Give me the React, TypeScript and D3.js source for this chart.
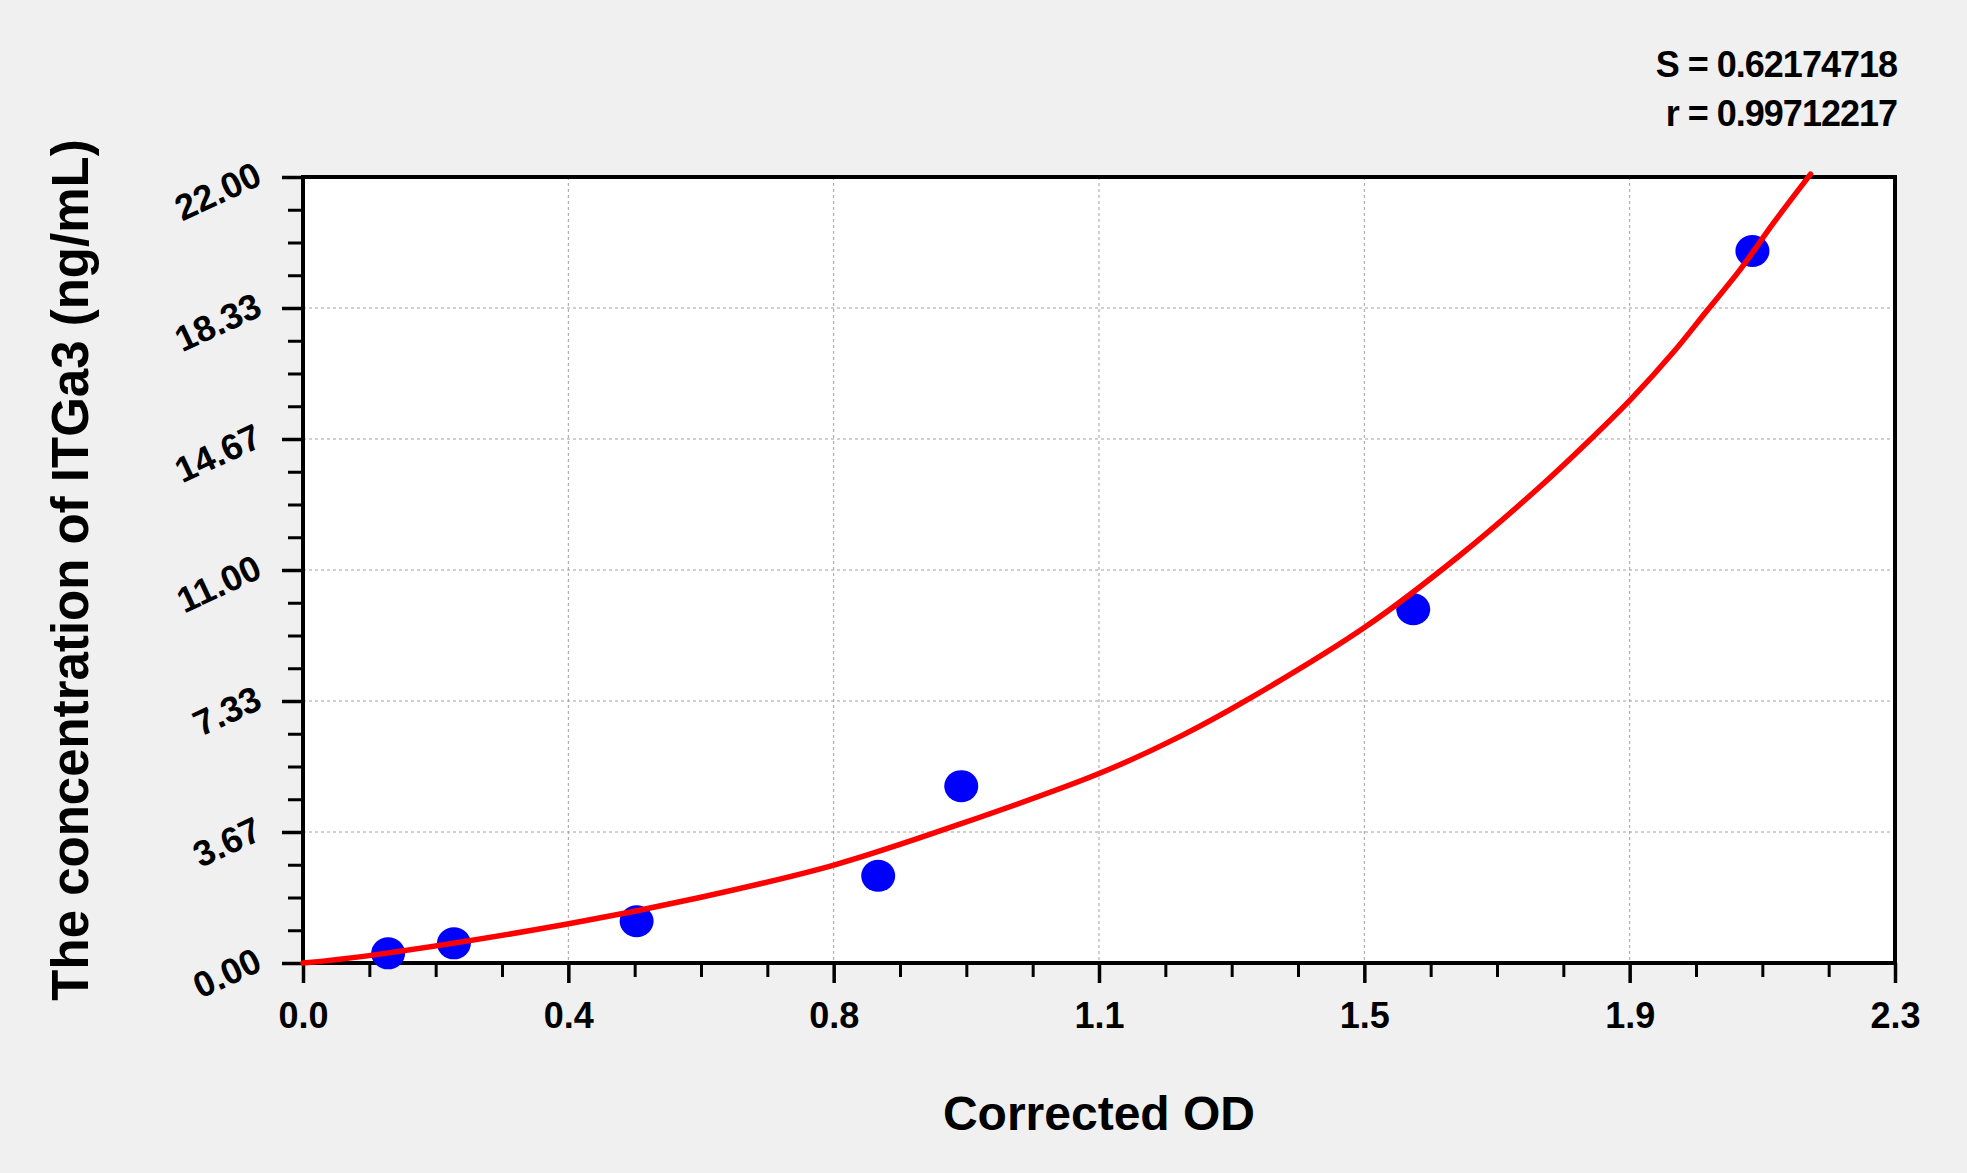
import React, { ReactElement, useEffect, useRef } from "react";
import * as d3 from "d3";

// measured standards (corrected OD -> concentration)
const pointOD = [0.123, 0.218, 0.482, 0.831, 0.951, 1.604, 2.094];
const pointConc = [0.27, 0.55, 1.17, 2.44, 4.95, 9.9, 19.93];

// fitted curve
const curveOD = [
  0, 0.093, 0.382, 0.575, 0.767, 0.951, 1.151, 1.268, 1.369, 1.535, 1.672,
  1.787, 1.864, 1.92, 1.98, 2.028, 2.076, 2.124, 2.178,
];
const curveConc = [
  0, 0.2, 1.09, 1.84, 2.74, 3.9, 5.31, 6.35, 7.42, 9.41, 11.42, 13.33, 14.73,
  15.81, 17.1, 18.25, 19.4, 20.7, 22.08,
];

const xTickLabels = ["0.0", "0.4", "0.8", "1.1", "1.5", "1.9", "2.3"];
const yTickLabels = ["0.00", "3.67", "7.33", "11.00", "14.67", "18.33", "22.00"];
const statLines = ["S = 0.62174718", "r = 0.99712217"];

const xMax = 2.3;
const yMax = 22;
const FONT = "'Liberation Sans', Arial, Helvetica, sans-serif";

function App(): ReactElement {
  const ref = useRef<SVGSVGElement>(null);

  useEffect(() => {
    drawChart();
  }, []);

  const drawChart = () => {
    const svg = d3.select(ref.current);
    svg.selectAll("*").remove();

    const left = 303;
    const right = 1895;
    const top = 177;
    const bottom = 963;

    const x = d3.scaleLinear().domain([0, xMax]).range([left, right]);
    const y = d3.scaleLinear().domain([0, yMax]).range([bottom, top]);

    const xMajor = xTickLabels.map((_, i) => (i * xMax) / 6);
    const yMajor = yTickLabels.map((_, i) => (i * yMax) / 6);
    const xMinor = d3.range(25).map((i) => (i * xMax) / 24).filter((_, i) => i % 4 !== 0);
    const yMinor = d3.range(25).map((i) => (i * yMax) / 24).filter((_, i) => i % 4 !== 0);

    svg.append("rect").attr("width", 1967).attr("height", 1173).attr("fill", "#f0f0f0");
    svg
      .append("rect")
      .attr("x", left)
      .attr("y", top)
      .attr("width", right - left)
      .attr("height", bottom - top)
      .attr("fill", "#ffffff");

    // grid
    const grid = svg.append("g").attr("stroke", "#a0a0a0").attr("stroke-width", 1).attr("stroke-dasharray", "3,3");
    grid
      .selectAll(".gx")
      .data(xMajor.slice(1, -1))
      .enter()
      .append("line")
      .attr("x1", (d) => x(d))
      .attr("x2", (d) => x(d))
      .attr("y1", top)
      .attr("y2", bottom);
    grid
      .selectAll(".gy")
      .data(yMajor.slice(1, -1))
      .enter()
      .append("line")
      .attr("x1", left)
      .attr("x2", right)
      .attr("y1", (d) => y(d))
      .attr("y2", (d) => y(d));

    // minor ticks
    const xMinorAxis = svg
      .append("g")
      .attr("transform", `translate(0,${bottom})`)
      .call(d3.axisBottom(x).tickValues(xMinor).tickSize(14).tickFormat(() => ""));
    const yMinorAxis = svg
      .append("g")
      .attr("transform", `translate(${left},0)`)
      .call(d3.axisLeft(y).tickValues(yMinor).tickSize(15).tickFormat(() => ""));
    [xMinorAxis, yMinorAxis].forEach((g) => {
      g.select(".domain").remove();
      g.selectAll("line").attr("stroke", "#000").attr("stroke-width", 3);
    });

    // major ticks + labels
    const xAxis = svg
      .append("g")
      .attr("transform", `translate(0,${bottom})`)
      .call(
        d3
          .axisBottom(x)
          .tickValues(xMajor)
          .tickSize(20)
          .tickFormat((_, i) => xTickLabels[i])
      );
    xAxis.select(".domain").remove();
    xAxis.selectAll("line").attr("stroke", "#000").attr("stroke-width", 3.5);
    xAxis
      .selectAll("text")
      .attr("y", 65)
      .attr("dy", 0)
      .attr("fill", "#000")
      .style("font-family", FONT)
      .style("font-weight", "bold")
      .style("font-size", "36px");

    const yAxis = svg
      .append("g")
      .attr("transform", `translate(${left},0)`)
      .call(
        d3
          .axisLeft(y)
          .tickValues(yMajor)
          .tickSize(21)
          .tickFormat((_, i) => yTickLabels[i])
      );
    yAxis.select(".domain").remove();
    yAxis.selectAll("line").attr("stroke", "#000").attr("stroke-width", 3.5);
    yAxis
      .selectAll("text")
      .attr("x", 0)
      .attr("dy", 0)
      .attr("text-anchor", "end")
      .attr("transform", "translate(-39,6) rotate(-25)")
      .attr("fill", "#000")
      .style("font-family", FONT)
      .style("font-weight", "bold")
      .style("font-size", "36px");

    // frame
    svg
      .append("rect")
      .attr("x", left)
      .attr("y", top)
      .attr("width", right - left)
      .attr("height", bottom - top)
      .attr("fill", "none")
      .attr("stroke", "#000")
      .attr("stroke-width", 4);

    // standards
    svg
      .selectAll(".pt")
      .data(pointOD)
      .enter()
      .append("ellipse")
      .attr("cx", (d) => x(d))
      .attr("cy", (_, i) => y(pointConc[i]))
      .attr("rx", 17)
      .attr("ry", 16)
      .attr("fill", "#0000ff");

    // fitted curve
    const line = d3
      .line<number>()
      .x((d) => x(d))
      .y((_, i) => y(curveConc[i]))
      .curve(d3.curveCatmullRom);
    svg
      .append("path")
      .datum(curveOD)
      .attr("d", line)
      .attr("fill", "none")
      .attr("stroke", "#ff0000")
      .attr("stroke-width", 5.5)
      .attr("stroke-linecap", "round")
      .attr("stroke-linejoin", "round");

    // titles
    svg
      .append("text")
      .attr("x", (left + right) / 2)
      .attr("y", 1130)
      .attr("text-anchor", "middle")
      .style("font-family", FONT)
      .style("font-weight", "bold")
      .style("font-size", "48px")
      .text("Corrected OD");
    svg
      .append("text")
      .attr("transform", `translate(88,${(top + bottom) / 2}) rotate(-90)`)
      .attr("text-anchor", "middle")
      .style("font-family", FONT)
      .style("font-weight", "bold")
      .style("font-size", "51px")
      .text("The concentration of ITGa3 (ng/mL)");

    svg
      .selectAll(".stat")
      .data(statLines)
      .enter()
      .append("text")
      .attr("x", 1897)
      .attr("y", (_, i) => 77 + i * 49)
      .attr("text-anchor", "end")
      .style("font-family", FONT)
      .style("font-weight", "bold")
      .style("font-size", "36px")
      .style("letter-spacing", "-1px")
      .text((d) => d);
  };

  return (
    <div style={{ position: "absolute", left: 0, top: 0 }}>
      <svg ref={ref} width={1967} height={1173} style={{ display: "block" }}></svg>
    </div>
  );
}

export default App;
